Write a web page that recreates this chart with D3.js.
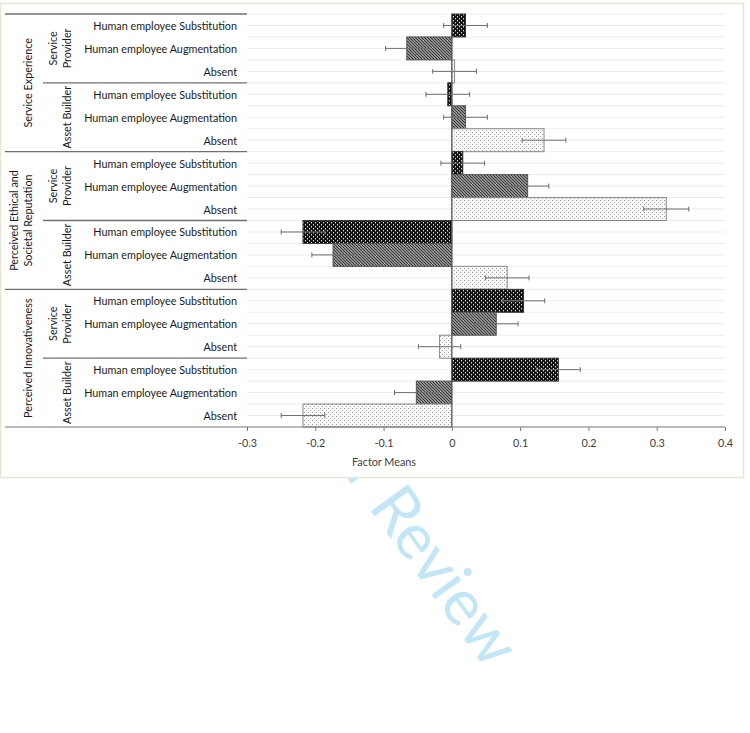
<!DOCTYPE html>
<html>
<head>
<meta charset="utf-8">
<script src="https://cdn.jsdelivr.net/npm/d3@7/dist/d3.min.js"></script>
<style>
  html, body { margin: 0; padding: 0; background: #ffffff; }
  svg { display: block; }
  text { font-family: Lato, "Liberation Sans", sans-serif; }
</style>
</head>
<body>
<div id="chart"></div>
<script>
// ---------------- DATA ----------------
const constructs = ["Service Experience", "Perceived Ethical and Societal Reputation", "Perceived Innovativeness"];
const constructLines = [["Service Experience"], ["Perceived Ethical and", "Societal Reputation"], ["Perceived Innovativeness"]];
const roles = ["Service Provider", "Asset Builder"];
const roleLines = [["Service", "Provider"], ["Asset Builder"]];
const conditions = ["Human employee Substitution", "Human employee Augmentation", "Absent"];

// means, ordered: Service Provider (Sub, Aug, Absent), Asset Builder (Sub, Aug, Absent)
const serviceExperienceMeans   = [0.020, -0.066, 0.004, -0.006, 0.020, 0.135];
const ethicalReputationMeans   = [0.016, 0.111, 0.314, -0.218, -0.174, 0.081];
const innovativenessMeans      = [0.105, 0.065, -0.018, 0.156, -0.052, -0.218];

const serviceExperienceErrors  = [0.032, 0.031, 0.032, 0.032, 0.032, 0.032];
const ethicalReputationErrors  = [0.032, 0.031, 0.033, 0.032, 0.031, 0.032];
const innovativenessErrors     = [0.031, 0.032, 0.031, 0.032, 0.032, 0.032];

const xTicks = [-0.3, -0.2, -0.1, 0, 0.1, 0.2, 0.3, 0.4];
const xTitle = "Factor Means";
const watermark = "For Peer Review";

// ---------------- BUILD ROWS ----------------
const meansByConstruct = [serviceExperienceMeans, ethicalReputationMeans, innovativenessMeans];
const errorsByConstruct = [serviceExperienceErrors, ethicalReputationErrors, innovativenessErrors];
const rows = [];
constructs.forEach((c, ci) => {
  roles.forEach((r, ri) => {
    conditions.forEach((cond, ki) => {
      const idx = ri * 3 + ki;
      rows.push({ construct: ci, role: ri, cond: ki, label: cond,
                  mean: meansByConstruct[ci][idx], err: errorsByConstruct[ci][idx],
                  id: rows.length });
    });
  });
});

// ---------------- LAYOUT ----------------
const W = 750, H = 733;
const plotLeft = 247, plotRight = 725, plotTop = 14, plotBottom = 427;
const FS = 10.8;

const svg = d3.select("#chart").append("svg").attr("width", W).attr("height", H);

// watermark (behind chart)
svg.append("text")
  .attr("transform", "translate(487,671) rotate(54)")
  .attr("text-anchor", "end")
  .attr("font-size", 64)
  .attr("fill", "#c2e6f6")
  .style("font-family", "Lato, 'Liberation Sans', sans-serif")
  .text(watermark);

// chart area background & border
svg.append("rect").attr("x", 0.5).attr("y", 3.5).attr("width", 743).attr("height", 474)
  .attr("fill", "#ffffff").attr("stroke", "#e4e6d6").attr("stroke-width", 1.5);

// patterns
const defs = svg.append("defs");
const pSub = defs.append("pattern").attr("id", "pSub").attr("patternUnits", "userSpaceOnUse")
  .attr("width", 4).attr("height", 4);
pSub.append("rect").attr("width", 4).attr("height", 4).attr("fill", "#111");
pSub.append("rect").attr("x", 1).attr("y", 0).attr("width", 1).attr("height", 1.4).attr("fill", "#ddd");
pSub.append("rect").attr("x", 3).attr("y", 2).attr("width", 1).attr("height", 1.4).attr("fill", "#ddd");

const pAug = defs.append("pattern").attr("id", "pAug").attr("patternUnits", "userSpaceOnUse")
  .attr("width", 3).attr("height", 3);
pAug.append("rect").attr("width", 3).attr("height", 3).attr("fill", "#bdbdbd");
pAug.append("path").attr("d", "M-1,-1 L4,4 M-1,2 L1,4 M2,-1 L4,1")
  .attr("stroke", "#2e2e2e").attr("stroke-width", 1.15);

const pAbs = defs.append("pattern").attr("id", "pAbs").attr("patternUnits", "userSpaceOnUse")
  .attr("width", 4).attr("height", 4);
pAbs.append("rect").attr("width", 4).attr("height", 4).attr("fill", "#fafafa");
pAbs.append("rect").attr("x", 0).attr("y", 0).attr("width", 1).attr("height", 1).attr("fill", "#999");
pAbs.append("rect").attr("x", 2).attr("y", 2).attr("width", 1).attr("height", 1).attr("fill", "#aaa");

const fills = ["url(#pSub)", "url(#pAug)", "url(#pAbs)"];
const strokes = ["#333", "#555", "#888"];

// scales
const x = d3.scaleLinear().domain([xTicks[0], xTicks[xTicks.length - 1]]).range([plotLeft, plotRight]);
const y = d3.scaleBand().domain(rows.map(d => d.id)).range([plotTop, plotBottom]).padding(0);
const bh = y.bandwidth();

// gridlines (half-row)
const gridYs = d3.range(0, rows.length * 2).map(k => plotTop + k * bh / 2);
svg.append("g").selectAll("line").data(gridYs).join("line")
  .attr("x1", plotLeft).attr("x2", plotRight)
  .attr("y1", d => d).attr("y2", d => d)
  .attr("stroke", "#ececec").attr("stroke-width", 1);

// bars
svg.append("g").selectAll("rect").data(rows).join("rect")
  .attr("x", d => Math.min(x(0), x(d.mean)))
  .attr("width", d => Math.abs(x(d.mean) - x(0)))
  .attr("y", d => y(d.id))
  .attr("height", bh)
  .attr("fill", d => fills[d.cond])
  .attr("stroke", d => strokes[d.cond])
  .attr("stroke-width", 1);

// zero (category) axis line
svg.append("line").attr("x1", x(0)).attr("x2", x(0)).attr("y1", plotTop).attr("y2", plotBottom)
  .attr("stroke", "#555").attr("stroke-width", 1);

// error bars
const eb = svg.append("g").attr("stroke", "#6e6e6e").attr("stroke-width", 1);
rows.forEach(d => {
  const cy = y(d.id) + bh / 2;
  const x1 = x(d.mean - d.err), x2 = x(d.mean + d.err);
  eb.append("line").attr("x1", x1).attr("x2", x2).attr("y1", cy).attr("y2", cy);
  eb.append("line").attr("x1", x1).attr("x2", x1).attr("y1", cy - 2.5).attr("y2", cy + 2.5);
  eb.append("line").attr("x1", x2).attr("x2", x2).attr("y1", cy - 2.5).attr("y2", cy + 2.5);
});

// value axis
const xAxis = d3.axisBottom(x).tickValues(xTicks).tickSize(4).tickPadding(8)
  .tickFormat(d => d === 0 ? "0" : d3.format(".1f")(d).replace("\u2212", "-"));
const gx = svg.append("g").attr("transform", `translate(0,${plotBottom})`).call(xAxis);
gx.select(".domain").remove();
gx.selectAll(".tick line").attr("stroke", "#777");
gx.selectAll(".tick text").attr("fill", "#404040").attr("font-size", FS)
  .style("font-family", "Lato, 'Liberation Sans', sans-serif");
svg.append("line").attr("x1", 5).attr("x2", plotRight).attr("y1", plotBottom).attr("y2", plotBottom)
  .attr("stroke", "#777").attr("stroke-width", 1.2);

svg.append("text").attr("x", 384).attr("y", 461).attr("text-anchor", "middle")
  .attr("dominant-baseline", "central").attr("font-size", FS).attr("fill", "#404040").text(xTitle);

// condition labels
svg.append("g").selectAll("text").data(rows).join("text")
  .attr("x", 237).attr("y", d => y(d.id) + bh / 2)
  .attr("text-anchor", "end").attr("dominant-baseline", "central")
  .attr("font-size", FS).attr("fill", "#1a1a1a").text(d => d.label);

// separator lines
const lineG = svg.append("g").attr("stroke", "#707070").attr("stroke-width", 1.4);
lineG.append("line").attr("x1", 5).attr("x2", plotLeft).attr("y1", plotTop).attr("y2", plotTop);
constructs.forEach((c, ci) => {
  const top = y(ci * 6);
  if (ci > 0) lineG.append("line").attr("x1", 5).attr("x2", plotLeft).attr("y1", top).attr("y2", top);
  const mid = y(ci * 6 + 3);
  lineG.append("line").attr("x1", 43).attr("x2", plotLeft).attr("y1", mid).attr("y2", mid);
});

// role labels (rotated)
constructs.forEach((c, ci) => {
  roles.forEach((r, ri) => {
    const start = y(ci * 6 + ri * 3);
    const cy = start + bh * 1.5;
    const lines = roleLines[ri];
    lines.forEach((ln, li) => {
      const lx = 66 - (lines.length - 1 - li) * 13.5;
      svg.append("text").attr("transform", `translate(${lx},${cy}) rotate(-90)`)
        .attr("text-anchor", "middle").attr("dominant-baseline", "central")
        .attr("font-size", FS).attr("fill", "#1a1a1a").text(ln);
    });
  });
  const cyc = y(ci * 6) + bh * 3;
  const cl = constructLines[ci];
  cl.forEach((ln, li) => {
    const lx = 27 - (cl.length - 1 - li) * 14;
    svg.append("text").attr("transform", `translate(${lx},${cyc}) rotate(-90)`)
      .attr("text-anchor", "middle").attr("dominant-baseline", "central")
      .attr("font-size", FS).attr("fill", "#1a1a1a").text(ln);
  });
});
</script>
</body>
</html>
